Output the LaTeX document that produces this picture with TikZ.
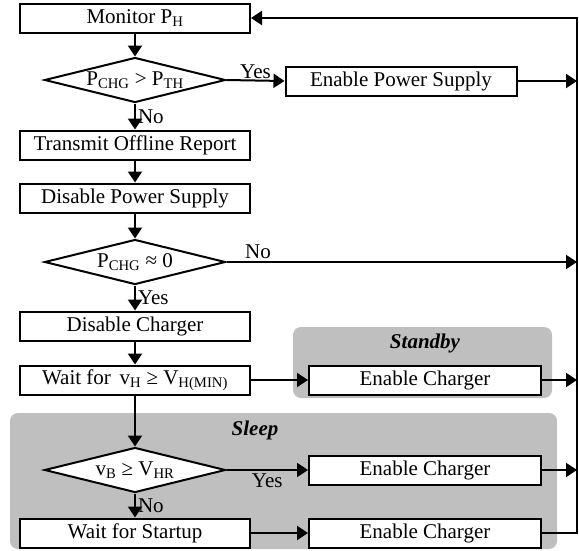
\documentclass[tikz,border=0pt]{standalone}
\usepackage{fontspec}
\setmainfont{Liberation Serif}
\usetikzlibrary{arrows.meta,shapes.geometric}
\newcommand{\sbs}[1]{\textsubscript{#1}}

\begin{document}
\begin{tikzpicture}[x=1pt,y=-1pt,line width=2pt,
  font=\fontsize{21}{25}\selectfont,
  box/.style={draw,fill=white,minimum width=230,minimum height=29,inner sep=0pt},
  dec/.style={draw,fill=white,diamond,aspect=4,minimum width=181,minimum height=45,inner sep=0pt},
  arr/.style={-{Triangle[length=11pt,width=14pt]}},
  zone/.style={fill=gray!50,rounded corners=8pt},
  zonetitle/.style={font=\fontsize{21}{25}\selectfont\bfseries\itshape}]
\useasboundingbox (0,0) rectangle (579,550);
\fill[zone] (293,327) rectangle (552,398);
\fill[zone] (10,413) rectangle (557,549);
\node[zonetitle] (stby) at (425,343) {Standby};
\node[zonetitle] (slp) at (255,430) {Sleep};

\node[box] (mon) at (135,18) {Monitor P\sbs{H}};
\node[dec] (dec1) at (135,80) {P\sbs{CHG} > P\sbs{TH}};
\node[box] (report) at (135,145) {Transmit Offline Report};
\node[box] (disps) at (135,198) {Disable Power Supply};
\node[dec] (dec2) at (135,262) {P\sbs{CHG} ≈ 0};
\node[box] (dischg) at (135,326) {Disable Charger};
\node[box] (wait) at (135,380) {Wait for \,v\sbs{H} ≥ V\sbs{H(MIN)}};
\node[dec] (dec3) at (135,470) {v\sbs{B} ≥ V\sbs{HR}};
\node[box] (startup) at (135,533) {Wait for Startup};

\node[box,minimum width=231] (eps) at (401,81) {Enable Power Supply};
\node[box,minimum width=232] (en1) at (425,380) {Enable Charger};
\node[box,minimum width=232] (en2) at (425,470) {Enable Charger};
\node[box,minimum width=232] (en3) at (425,533) {Enable Charger};

\coordinate (rt) at (577,18);
\coordinate (rb) at (577,533);

\draw[arr] (mon) -- (dec1);
\draw[arr] (dec1) -- node[midway,right,inner sep=2pt] {No} (report);
\draw[arr] (report) -- (disps);
\draw[arr] (disps) -- (dec2);
\draw[arr] (dec2) -- node[midway,right,inner sep=2pt] {Yes} (dischg);
\draw[arr] (dischg) -- (wait);
\draw[arr] (wait) -- (dec3);
\draw[arr] (dec3) -- node[midway,right,inner sep=2pt] {No} (startup);

\draw[arr] (dec1.east) -- node[midway,above,inner sep=1pt] {Yes} (eps.west);
\draw[arr] (eps.east) -- (eps.east -| rt);
\draw[arr] (dec2.east) -- node[pos=0.09,above,inner sep=2pt] {No} (dec2.east -| rt);
\draw[arr] (wait.east) -- (en1.west);
\draw[arr] (en1.east) -- (en1.east -| rt);
\draw[arr] (dec3.east) -- node[midway,below,inner sep=3pt] {Yes} (en2.west);
\draw[arr] (en2.east) -- (en2.east -| rt);
\draw[arr] (startup.east) -- (en3.west);
\draw[arr] (en3.east) -- (rb) -- (rt) -- (mon.east);
\end{tikzpicture}
\end{document}
